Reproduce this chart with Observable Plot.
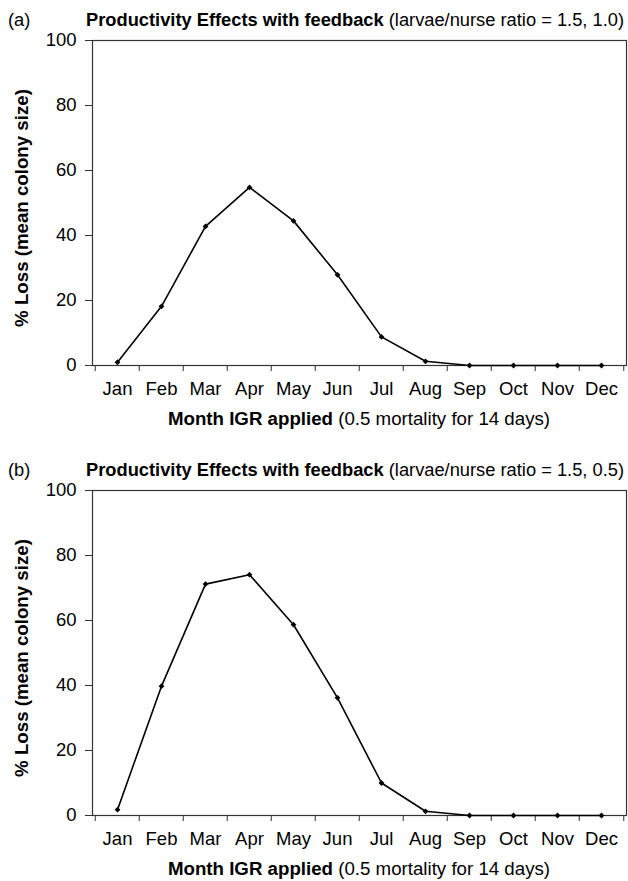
<!DOCTYPE html>
<html><head><meta charset="utf-8">
<script src="https://cdn.jsdelivr.net/npm/d3@7"></script>
<script src="https://cdn.jsdelivr.net/npm/@observablehq/plot@0.6"></script>
<style>
body{margin:0;background:#fff;font-family:"Liberation Sans",Arial,Helvetica,sans-serif;color:#000}
.panel{position:relative;width:628px}
.panel svg{display:block}
.ov{position:absolute;font-size:18px;line-height:18px;white-space:nowrap}
</style></head><body>
<div id="root"></div>
<script>
const months = ["Jan","Feb","Mar","Apr","May","Jun","Jul","Aug","Sep","Oct","Nov","Dec"];
const lossA = [1.0, 18.2, 42.8, 54.8, 44.5, 27.9, 8.8, 1.3, 0, 0, 0, 0];
const lossB = [1.8, 39.8, 71.2, 74.1, 58.7, 36.2, 10.0, 1.3, 0, 0, 0, 0];
const yTicks = [0, 20, 40, 60, 80, 100];
const panelLabels = ["(a)", "(b)"];
const titleBold = "Productivity Effects with feedback";
const titleRest = [" (larvae/nurse ratio = 1.5, 1.0)", " (larvae/nurse ratio = 1.5, 0.5)"];
const yLabel = "% Loss (mean colony size)";
const xLabelBold = "Month IGR applied";
const xLabelRest = " (0.5 mortality for 14 days)";

const W = 628, ML = 92, MR = 2, MT = 40;
const step = (W - ML - MR) / months.length;

function makePanel(values, idx, height, marginBottom) {
  const data = months.map((m, i) => ({month: m, loss: values[i]}));
  const chart = Plot.plot({
    width: W, height, marginLeft: ML, marginRight: MR, marginTop: MT, marginBottom,
    style: {fontFamily: '"Liberation Sans", Arial, Helvetica, sans-serif', fontSize: "18px", color: "#000", background: "#fff"},
    x: {type: "point", domain: months, padding: 0.5},
    y: {domain: [0, 100]},
    marks: [
      Plot.frame({stroke: "#333", strokeWidth: 1.2}),
      Plot.axisY(yTicks, {tickSize: 7, tickPadding: 9, label: null, fontSize: 18.5, stroke: "#333"}),
      Plot.axisX(months, {tickSize: 0, tickPadding: 16, label: null, fontSize: 18.5}),
      Plot.axisX(months, {tickSize: 6, label: null, tickFormat: () => "", dx: -step / 2, stroke: "#333"}),
      Plot.axisX([months[months.length - 1]], {tickSize: 6, label: null, tickFormat: () => "", dx: step / 2, stroke: "#333"}),
      Plot.line(data, {x: "month", y: "loss", stroke: "#000", strokeWidth: 1.6}),
      Plot.dot(data, {x: "month", y: "loss", symbol: "diamond2", r: 2.6, fill: "#000"})
    ]
  });
  const div = document.createElement("div");
  div.className = "panel";
  div.style.height = height + "px";
  div.appendChild(chart);
  const add = (html, css) => {
    const e = document.createElement("div");
    e.className = "ov";
    e.innerHTML = html;
    Object.assign(e.style, css);
    div.appendChild(e);
  };
  add(panelLabels[idx], {left: "8px", top: "11px", fontSize: "18.3px"});
  add("<b>" + titleBold + "</b>" + titleRest[idx], {left: "86px", top: "11px", fontSize: "18.3px"});
  add("<b>" + yLabel + "</b>", {left: "22px", top: "208px", fontSize: "18.7px", transform: "translate(-50%,-50%) rotate(-90deg)"});
  add("<b>" + xLabelBold + "</b>" + xLabelRest, {left: ML + "px", width: (W - ML - MR) + "px", textAlign: "center", top: "410px", fontSize: "18.7px"});
  return div;
}

const root = document.getElementById("root");
root.appendChild(makePanel(lossA, 0, 450, 85));
root.appendChild(makePanel(lossB, 1, 431, 66));
</script>
</body></html>
